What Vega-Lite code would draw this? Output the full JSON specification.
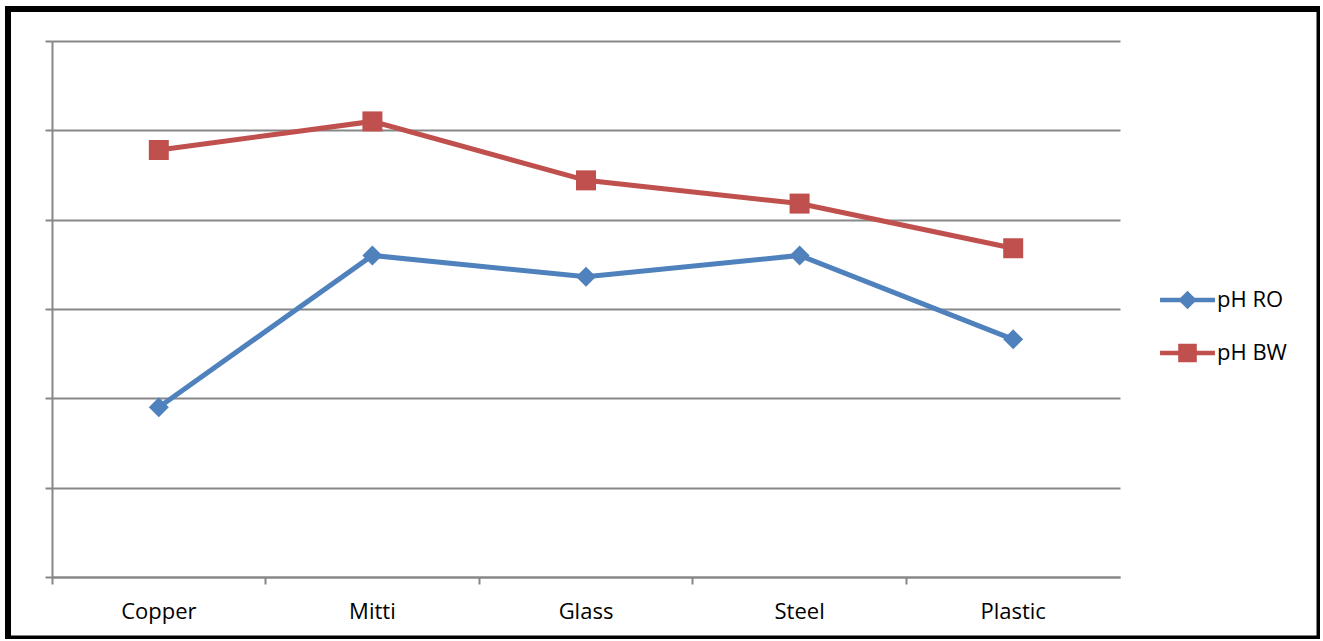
{
  "$schema": "https://vega.github.io/schema/vega-lite/v6.json",
  "width": 1311.5,
  "height": 629.5,
  "autosize": {"type": "none"},
  "padding": {"left": 8, "top": 9, "right": 0, "bottom": 0},
  "background": "white",
  "config": {
    "view": {"stroke": "black", "strokeWidth": 6, "fill": "white"},
    "font": "Open Sans",
    "axis": {
      "domainColor": "#878787",
      "domainWidth": 2,
      "tickColor": "#878787",
      "tickWidth": 2,
      "tickSize": 7,
      "gridColor": "#878787",
      "gridWidth": 2,
      "labelFont": "Open Sans",
      "labelFontSize": 22,
      "labelColor": "black",
      "title": null
    }
  },
  "data": {
    "values": [
      {"material": "Copper", "series": "pH RO", "ph": 5.95},
      {"material": "Mitti", "series": "pH RO", "ph": 6.8},
      {"material": "Glass", "series": "pH RO", "ph": 6.68},
      {"material": "Steel", "series": "pH RO", "ph": 6.8},
      {"material": "Plastic", "series": "pH RO", "ph": 6.33},
      {"material": "Copper", "series": "pH BW", "ph": 7.39},
      {"material": "Mitti", "series": "pH BW", "ph": 7.55},
      {"material": "Glass", "series": "pH BW", "ph": 7.22},
      {"material": "Steel", "series": "pH BW", "ph": 7.09},
      {"material": "Plastic", "series": "pH BW", "ph": 6.84}
    ]
  },
  "encoding": {
    "x": {
      "field": "material",
      "type": "nominal",
      "sort": null,
      "bandPosition": 0.5,
      "scale": {"type": "band", "range": [44, 1112], "paddingInner": 0, "paddingOuter": 0},
      "axis": {"orient": "bottom", "offset": -61.5, "bandPosition": 0, "labelAngle": 0, "labelPadding": 17, "grid": false}
    },
    "y": {
      "field": "ph",
      "type": "quantitative",
      "scale": {"domain": [5, 8], "range": [568, 32], "nice": false, "zero": false},
      "axis": {"orient": "left", "offset": -44, "values": [5, 5.5, 6, 6.5, 7, 7.5, 8], "labels": false, "grid": true}
    },
    "color": {
      "field": "series",
      "type": "nominal",
      "sort": ["pH RO", "pH BW"],
      "scale": {"domain": ["pH RO", "pH BW"], "range": ["#4F81BD", "#C0504D"]},
      "legend": {
        "title": null,
        "orient": "none",
        "legendX": 1164.5,
        "legendY": 276,
        "padding": 0,
        "symbolSize": 900,
        "labelOffset": 14.5,
        "rowPadding": 27,
        "labelFont": "Open Sans",
        "labelFontSize": 22,
        "labelColor": "black",
        "encode": {
          "symbols": {
            "update": {
              "shape": {"signal": "datum.value === 'pH RO' ? 'M-1.83,-0.15H1.83V0.15H-1.83Z M0,-0.62L0.62,0L0,0.62L-0.62,0Z' : 'M-1.83,-0.15H1.83V0.15H-1.83Z M-0.62,-0.62H0.62V0.62H-0.62Z'"},
              "fill": {"scale": "color", "field": "value"},
              "fillOpacity": {"value": 1},
              "strokeWidth": {"value": 0},
              "opacity": {"value": 1}
            }
          }
        }
      }
    }
  },
  "layer": [
    {"mark": {"type": "line", "strokeWidth": 5}},
    {
      "mark": {"type": "point", "filled": true, "opacity": 1, "size": 400},
      "encoding": {
        "shape": {
          "condition": {"test": "datum.series === 'pH RO'", "value": "diamond"},
          "value": "square"
        }
      }
    }
  ]
}
